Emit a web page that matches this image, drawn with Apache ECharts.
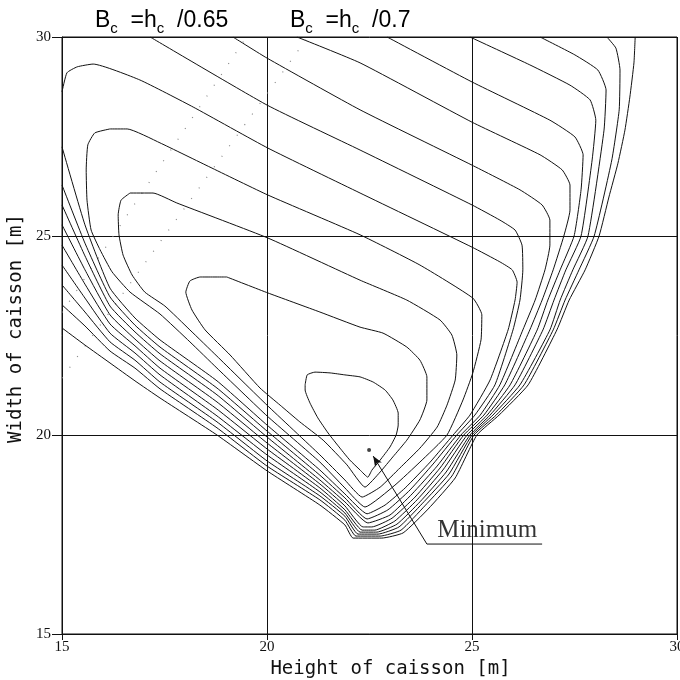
<!DOCTYPE html>
<html><head><meta charset="utf-8">
<script src="https://cdn.jsdelivr.net/npm/echarts/dist/echarts.min.js"></script>
<style>html,body{margin:0;padding:0;background:#fff}#c{width:680px;height:680px}</style>
</head><body><div id="c"></div>
<script>
// Axis range / ticks
const axisMin = 15, axisMax = 30, axisStep = 5;

// Contour lines (Height of caisson [m], Width of caisson [m]), innermost first
const contour1 = [[20.93,21.26],[20.98,21.51],[21.17,21.58],[21.54,21.56],[21.90,21.51],[22.27,21.46],[22.59,21.33],[22.88,21.13],[23.07,20.88],[23.20,20.55],[23.20,20.25],[23.15,20.00],[23.00,19.70],[22.76,19.37],[22.56,19.12],[22.46,18.94],[22.27,19.12],[22.02,19.37],[21.78,19.67],[21.49,20.05],[21.24,20.43],[21.05,20.80],[20.93,21.13],[20.93,21.26]];
const contour2 = [[19.02,23.97],[20.02,23.57],[21.29,23.09],[22.27,22.71],[22.83,22.56],[23.41,22.21],[23.73,21.88],[23.90,21.46],[23.90,20.88],[23.73,20.38],[23.41,19.87],[23.07,19.45],[22.76,19.07],[22.39,18.69],[21.95,19.25],[21.37,19.87],[20.80,20.33],[20.32,20.75],[19.83,21.18],[19.10,22.01],[18.49,22.64],[18.17,23.14],[18.02,23.59],[18.12,23.87],[18.37,23.97],[19.02,23.97]];
const contour3 = [[16.66,26.08],[17.22,26.08],[17.80,25.83],[20.02,24.95],[22.27,23.89],[23.41,23.39],[24.22,22.89],[24.51,22.51],[24.63,22.01],[24.59,21.38],[24.39,20.75],[24.15,20.20],[23.73,19.67],[23.24,19.17],[22.76,18.69],[22.32,18.44],[21.90,18.87],[21.29,19.50],[20.00,20.75],[18.78,21.98],[18.12,22.64],[17.51,23.24],[17.02,23.59],[16.71,24.02],[16.49,24.52],[16.39,25.03],[16.37,25.53],[16.44,25.90],[16.66,26.08]];
const contour4 = [[16.17,27.69],[16.59,27.69],[17.39,27.34],[18.61,26.73],[20.02,26.03],[22.27,25.03],[23.73,24.27],[25.02,23.44],[25.24,23.02],[25.22,22.39],[25.02,21.56],[24.78,20.88],[24.39,20.00],[23.73,19.32],[23.12,18.74],[22.39,18.19],[21.90,18.67],[21.29,19.32],[20.00,20.48],[18.78,21.68],[18.12,22.34],[17.39,23.04],[16.66,23.59],[16.22,24.10],[15.93,24.65],[15.71,25.15],[15.61,25.90],[15.59,26.66],[15.63,27.29],[15.80,27.59],[16.17,27.69]];
const contour5 = [[15.00,28.62],[15.12,29.10],[15.37,29.25],[15.76,29.32],[16.90,28.92],[18.20,28.24],[20.02,27.21],[22.27,26.08],[25.00,24.72],[25.68,24.35],[25.98,24.15],[26.10,23.84],[26.05,23.39],[25.88,22.64],[25.44,21.38],[24.95,20.50],[24.54,20.00],[23.98,19.32],[23.37,18.67],[22.88,18.24],[22.44,18.02],[21.90,18.52],[21.29,19.12],[20.00,20.25],[18.78,21.36],[17.39,22.39],[16.78,22.94],[16.17,23.69],[15.56,25.28],[15.00,27.24]];
const contour6 = [[17.15,30.00],[20.00,28.29],[22.27,27.16],[25.00,25.78],[25.68,25.40],[26.05,25.15],[26.22,24.77],[26.24,24.15],[26.17,23.39],[26.00,22.64],[25.56,21.26],[25.07,20.50],[24.63,20.00],[24.05,19.27],[23.49,18.62],[22.95,18.12],[22.44,17.89],[21.90,18.42],[21.29,18.99],[20.00,20.10],[18.78,21.18],[17.39,22.21],[16.78,22.76],[16.17,23.47],[15.56,24.82],[15.00,26.28]];
const contour7 = [[19.17,30.00],[20.00,29.47],[22.27,28.17],[25.00,26.78],[26.17,26.16],[26.71,25.78],[26.90,25.40],[26.90,24.77],[26.78,24.15],[26.54,23.39],[26.24,22.64],[25.68,21.26],[25.20,20.50],[24.73,20.00],[24.15,19.22],[23.54,18.52],[23.00,17.99],[22.46,17.79],[21.90,18.32],[21.29,18.87],[20.00,19.95],[18.78,21.01],[17.39,22.04],[16.78,22.59],[16.17,23.24],[15.56,24.50],[15.00,25.78]];
const contour8 = [[20.73,30.00],[22.27,29.35],[25.00,27.86],[26.66,27.04],[27.20,26.66],[27.39,26.28],[27.39,25.65],[27.24,25.00],[26.98,24.15],[26.71,23.39],[26.41,22.64],[25.80,21.26],[25.29,20.50],[24.80,20.00],[24.22,19.17],[23.61,18.44],[23.05,17.91],[22.56,17.69],[22.34,17.69],[21.90,18.22],[21.29,18.77],[20.00,19.80],[18.78,20.83],[17.39,21.86],[16.78,22.41],[16.17,23.02],[15.56,24.15],[15.00,25.28]];
const contour9 = [[22.93,30.00],[25.00,28.87],[26.90,27.91],[27.51,27.49],[27.71,27.04],[27.66,26.16],[27.49,25.00],[27.15,24.15],[26.85,23.39],[26.59,22.64],[25.93,21.26],[25.37,20.50],[24.88,20.00],[24.29,19.12],[23.66,18.37],[23.12,17.84],[22.63,17.61],[22.32,17.61],[21.90,18.12],[21.29,18.67],[20.00,19.65],[18.78,20.65],[17.39,21.68],[16.78,22.24],[16.17,22.79],[15.56,23.79],[15.00,24.77]];
const contour10 = [[24.95,30.00],[26.41,29.30],[27.39,28.79],[27.88,28.42],[28.02,27.91],[27.93,26.91],[27.66,25.00],[27.29,24.15],[27.00,23.39],[26.73,22.64],[26.05,21.26],[25.44,20.50],[24.95,20.00],[24.37,19.07],[23.73,18.32],[23.17,17.76],[22.68,17.56],[22.27,17.56],[21.90,18.04],[21.29,18.57],[20.00,19.50],[18.78,20.48],[17.39,21.51],[16.78,22.06],[16.17,22.56],[15.56,23.44],[15.00,24.27]];
const contour11 = [[26.66,30.00],[27.51,29.55],[28.07,29.17],[28.27,28.67],[28.22,27.66],[27.83,25.00],[27.46,24.15],[27.15,23.39],[26.90,22.64],[26.17,21.26],[25.51,20.50],[25.00,20.00],[24.44,19.02],[23.78,18.27],[23.22,17.69],[22.71,17.51],[22.22,17.51],[21.90,17.96],[21.29,18.47],[20.00,19.35],[18.78,20.33],[17.39,21.33],[16.78,21.88],[16.17,22.34],[15.56,23.09],[15.00,23.77]];
const contour12 = [[28.29,30.00],[28.51,29.72],[28.61,29.17],[28.59,28.17],[28.41,26.91],[27.98,25.00],[27.61,24.15],[27.27,23.39],[26.98,22.64],[26.27,21.26],[25.59,20.50],[25.05,20.00],[24.51,18.97],[23.85,18.22],[23.27,17.61],[22.76,17.46],[22.17,17.46],[21.90,17.86],[21.29,18.37],[20.00,19.22],[18.78,20.18],[17.39,21.16],[16.78,21.68],[16.17,22.11],[15.56,22.74],[15.00,23.27]];
const contour13 = [[28.98,30.00],[28.95,29.35],[28.85,28.49],[28.73,27.66],[28.56,26.83],[28.34,25.98],[28.10,25.00],[27.76,24.15],[27.37,23.39],[27.07,22.64],[26.37,21.26],[25.66,20.50],[25.12,20.00],[24.59,18.92],[23.93,18.14],[23.32,17.54],[22.80,17.41],[22.10,17.41],[21.90,17.74],[21.29,18.24],[20.00,19.10],[18.78,20.00],[17.39,20.93],[16.78,21.36],[16.17,21.81],[15.56,22.26],[15.00,22.69]];

// Dotted guide lines B_c = h_c/0.65 and B_c = h_c/0.7
const guide065 = [[15.00,23.08],[19.50,30.00]];
const guide070 = [[15.00,21.43],[21.00,30.00]];

// Minimum annotation
const minimumPoint = [22.49,19.62];
const leaderLine = [[23.90,17.26],[26.71,17.26]];
const arrowFrom = [23.90,17.26];
const arrowTo = [22.59,19.47];
const minimumLabelAt = [24.15,17.26];

const xName = 'Height of caisson [m]';
const yName = 'Width of caisson [m]';

const contours = [contour1,contour2,contour3,contour4,contour5,contour6,contour7,contour8,contour9,contour10,contour11,contour12,contour13];

const chart = echarts.init(document.getElementById('c'), null, {renderer:'canvas'});
const ink = '#111';
const tickFont = {fontFamily:'Liberation Serif', fontSize:15, color:ink};
const nameFont = {fontFamily:'DejaVu Sans Mono', fontSize:19, color:ink};

const series = contours.map(c => ({
  type:'line', data:c, symbol:'none', smooth:0.15, silent:true, z:3,
  lineStyle:{color:ink, width:1}
}));
[guide065, guide070].forEach(g => series.push({
  type:'line', data:g, symbol:'none', silent:true, z:2,
  lineStyle:{color:'#888', width:1.2, type:[1,12]}
}));
series.push({
  type:'line', data:leaderLine, symbol:'none', silent:true, z:4,
  lineStyle:{color:ink, width:1},
  markLine:{silent:true, symbol:['none','arrow'], symbolSize:[6,10],
    lineStyle:{color:ink, width:1, type:'solid'}, label:{show:false},
    data:[[{coord:arrowFrom},{coord:arrowTo}]]}
});
series.push({
  type:'scatter', data:[minimumPoint], symbol:'circle', symbolSize:4, silent:true, z:5,
  itemStyle:{color:ink}
});
series.push({
  type:'scatter', data:[minimumLabelAt], symbolSize:0, silent:true, z:5,
  label:{show:true, formatter:'Minimum', position:[0,0], align:'left', verticalAlign:'bottom',
    offset:[0,-1], fontFamily:'Liberation Serif', fontSize:25, color:'#000'}
});

const richTop = {
  b:{fontFamily:'Liberation Sans', fontSize:23, lineHeight:32, verticalAlign:'middle', color:ink},
  s:{fontFamily:'Liberation Sans', fontSize:15, lineHeight:14, verticalAlign:'bottom', color:ink}
};

chart.setOption({
  animation:false,
  backgroundColor:'#fff',
  grid:{left:62, right:3, top:37, bottom:46, show:true, borderColor:ink, borderWidth:1,
    containLabel:false, outerBoundsMode:'none'},
  xAxis:{type:'value', min:axisMin, max:axisMax, interval:axisStep,
    name:xName, nameLocation:'middle', nameGap:24, nameTextStyle:Object.assign({padding:[0,0,0,42]}, nameFont),
    axisLine:{lineStyle:{color:ink, width:1}},
    axisTick:{show:true, inside:false, length:6, lineStyle:{color:ink}},
    axisLabel:Object.assign({margin:6}, tickFont),
    splitLine:{show:true, lineStyle:{color:ink, width:1}}},
  yAxis:{type:'value', min:axisMin, max:axisMax, interval:axisStep,
    name:yName, nameLocation:'middle', nameGap:35, nameTextStyle:Object.assign({padding:[0,0,0,14]}, nameFont),
    axisLine:{lineStyle:{color:ink, width:1}},
    axisTick:{show:true, inside:false, length:10, lineStyle:{color:ink}},
    axisLabel:Object.assign({margin:11}, tickFont),
    splitLine:{show:true, lineStyle:{color:ink, width:1}}},
  graphic:[
    {type:'text', left:95, top:9, style:{text:'{b|B}{s|c}{b|  =h}{s|c}{b|  /0.65}', rich:richTop}},
    {type:'text', left:290, top:9, style:{text:'{b|B}{s|c}{b|  =h}{s|c}{b|  /0.7}', rich:richTop}}
  ],
  series:series
});
</script></body></html>
